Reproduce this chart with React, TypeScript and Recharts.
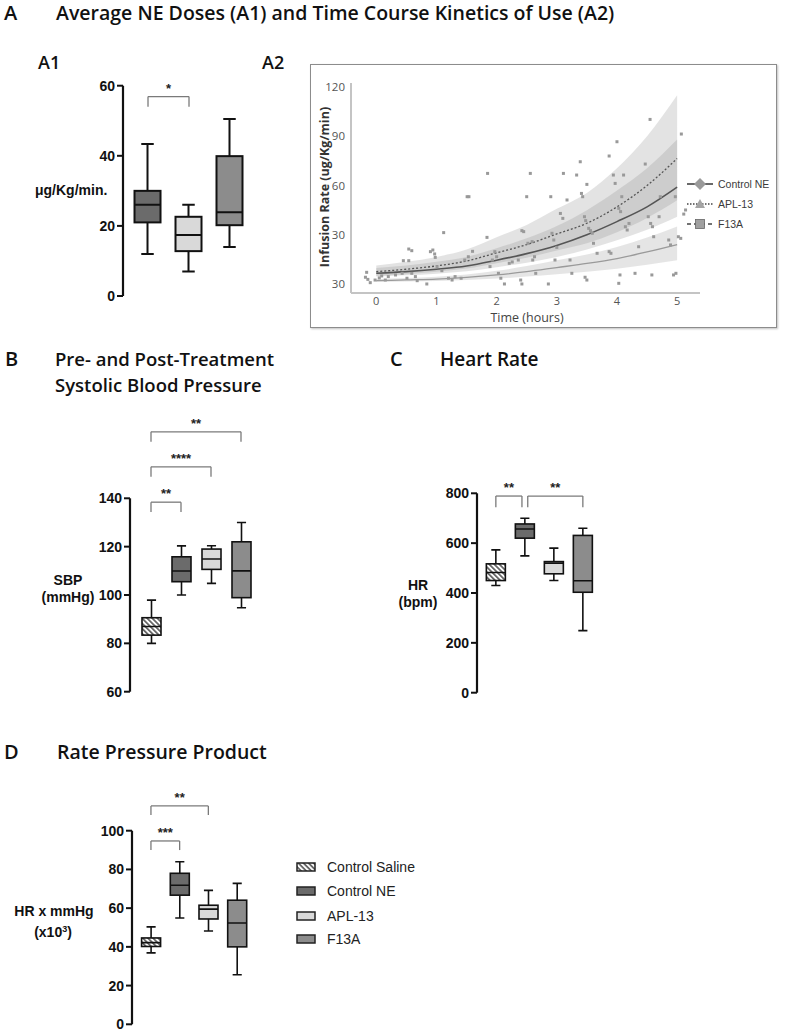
import React from 'react';
import { ComposedChart, Bar, XAxis, YAxis, ReferenceLine, Area, Line, Scatter } from 'recharts';

const HEAD = '"Open Sans", "Noto Sans", sans-serif';
const SANS = '"Liberation Sans", Arial, sans-serif';

// group fills (styles kept apart from the data)
const GROUP_FILL: Record<string, string> = {
  'Control Saline': 'url(#hatch)',
  'Control NE': '#6b6b6b',
  'APL-13': '#d9d9d9',
  F13A: '#8c8c8c',
};

// ---- A1: average NE dose (µg/Kg/min) ----
const A1_GROUPS = ['Control NE', 'APL-13', 'F13A'];
const A1_MIN = [12, 7, 14];
const A1_Q1 = [21, 12.8, 20.2];
const A1_MED = [26, 17.4, 23.9];
const A1_Q3 = [30, 22.6, 39.9];
const A1_MAX = [43.4, 26, 50.5];
const A1_TICKS = [0, 20, 40, 60];

// ---- B / C / D groups ----
const GROUPS = ['Control Saline', 'Control NE', 'APL-13', 'F13A'];

// B: systolic blood pressure (mmHg)
const SBP_MIN = [80, 100, 104.8, 94.7];
const SBP_Q1 = [83.4, 105.5, 110.6, 98.9];
const SBP_MED = [87, 109.9, 114.9, 110];
const SBP_Q3 = [90.6, 115.8, 119, 122];
const SBP_MAX = [97.9, 120.3, 120.4, 130];
const SBP_TICKS = [60, 80, 100, 120, 140];

// C: heart rate (bpm)
const HR_MIN = [430, 549, 450, 249];
const HR_Q1 = [450, 620, 477, 403];
const HR_MED = [482, 657, 520, 449];
const HR_Q3 = [517, 677, 526, 631];
const HR_MAX = [573, 700, 580, 660];
const HR_TICKS = [0, 200, 400, 600, 800];

// D: rate pressure product (x10^3)
const RPP_MIN = [36.9, 54.9, 48.2, 25.6];
const RPP_Q1 = [40.2, 66.7, 54.4, 40];
const RPP_MED = [42.2, 71.8, 59.5, 52.3];
const RPP_Q3 = [44.6, 78, 61.5, 64.1];
const RPP_MAX = [50.3, 84, 69.2, 72.8];
const RPP_TICKS = [0, 20, 40, 60, 80, 100];

type Bracket = { x1: number; x2: number; y: number; leg: number; text: string };
const A1_BRACKETS: Bracket[] = [{ x1: 1, x2: 2, y: 56.9, leg: 2.9, text: '*' }];
const SBP_BRACKETS: Bracket[] = [
  { x1: 1, x2: 2, y: 138.4, leg: 4.1, text: '**' },
  { x1: 1, x2: 3, y: 153, leg: 4.1, text: '****' },
  { x1: 1, x2: 4, y: 167.5, leg: 4.1, text: '**' },
];
const HR_BRACKETS: Bracket[] = [
  { x1: 1, x2: 1.9, y: 789, leg: 45, text: '**' },
  { x1: 2.1, x2: 4, y: 789, leg: 45, text: '**' },
];
const RPP_BRACKETS: Bracket[] = [
  { x1: 1, x2: 2, y: 94.7, leg: 4.7, text: '***' },
  { x1: 1, x2: 3, y: 112.8, leg: 4.7, text: '**' },
];

// ---- A2: time course of infusion rate ----
const A2_T = [0, 0.5, 1, 1.5, 2, 2.5, 3, 3.5, 4, 4.5, 5];
const A2_NE_FIT = [6.5, 7.5, 9, 11, 14.5, 18.5, 23.5, 30, 38, 47, 59];
const A2_NE_LO = [4.6, 5.3, 6.3, 7.7, 10.2, 13, 16.5, 21, 26.6, 33, 41];
const A2_NE_HI = [9.8, 11.3, 13.5, 16.5, 21.8, 27.8, 35.3, 45, 57, 70.5, 88];
const A2_APL_FIT = [7.5, 9, 11, 14, 19, 24, 30.5, 37, 47, 60, 76.5];
const A2_APL_LO = [5, 6, 7.4, 9.4, 12.7, 16, 20.4, 24.8, 31.5, 40.2, 51];
const A2_APL_HI = [11.3, 13.5, 16.5, 21, 28.5, 36, 45.8, 55.5, 70.5, 90, 115];
const A2_F13A_FIT = [2, 2.5, 3, 4, 5.5, 7.5, 10, 12.5, 15.5, 19.5, 24];
const A2_F13A_LO = [1.2, 1.5, 1.8, 2.4, 3.3, 4.5, 6, 7.5, 9.3, 11.7, 14.5];
const A2_F13A_HI = [2.9, 3.6, 4.4, 5.8, 8, 10.9, 14.5, 18, 22.5, 28.3, 35];

const A2_PT_T = [
  -0.16, -0.18, -0.14, -0.1, -0.02, 0.05, 0.09, 0.15, 0.2, 0.32, 0.43, 0.51, 0.45, 0.54, 0.54, 0.59, 0.59, 0.65,
  0.68, 0.84, 0.9, 0.94, 0.97, 0.98, 1.01, 1.09, 1.12, 1.2, 1.26, 1.31, 1.41, 1.47, 1.53, 1.6, 1.51, 1.54, 1.84,
  1.85, 1.89, 1.93, 1.97, 2.0, 2.03, 2.07, 2.13, 2.21, 2.26, 2.36, 2.4, 2.42, 2.42, 2.45, 2.5, 2.56, 2.52, 2.59,
  2.6, 2.63, 2.65, 2.86, 2.9, 2.92, 2.95, 2.97, 3.0, 3.06, 3.1, 3.11, 3.17, 3.22, 3.25, 3.33, 3.39, 3.41, 3.43,
  3.46, 3.48, 3.47, 3.5, 3.5, 3.53, 3.56, 3.59, 3.61, 3.67, 3.87, 3.9, 3.87, 3.94, 3.97, 4.0, 4.03, 4.06, 4.05,
  4.03, 4.08, 4.11, 4.14, 4.17, 4.2, 4.3, 4.36, 4.47, 4.52, 4.56, 4.59, 4.61, 4.55, 4.58, 4.7, 4.72, 4.86, 4.89,
  4.94, 4.98, 4.97, 5.02, 5.06, 5.07, 5.11, 5.14,
];
const A2_PT_V = [
  7.1, 4.1, 2.8, 0.8, 2.4, 3.7, 4.9, 2.4, 4.5, 5.5, 6.5, 3.5, 14.2, 14.2, 21.3, 20.3, 6.5, 4.5,
  2, 0, 19.7, 20.7, 18.3, 16.2, 10.6, 8.1, 31.3, 3.5, 2.4, 4.5, 3.5, 14.6, 16.6, 19.9, 53.2, 53.2, 28.4,
  67.4, 10.6, 14.6, 19.7, 16.6, 6.5, 3.5, 0, 12.6, 13.4, 14.6, 2.4, 0, 32.5, 31.9, 53.2, 67.4, 24.8, 25.8,
  14.6, 16.6, 6.5, 0, 53.2, 30.9, 26.8, 14.6, 22.3, 43, 40, 67.4, 51.2, 14.6, 6.5, 66.4, 74.5, 55.2, 53.2,
  41, 38.6, 4.1, 2.4, 60.7, 33.9, 32.5, 30.9, 24.8, 18.7, 19.7, 18.7, 78, 66.4, 61.3, 86.7, 46.1, 44.1, 5.5,
  0.4, 53.2, 66.4, 34.9, 32.9, 36.9, 6.5, 22.7, 73.1, 41, 36.9, 34.9, 28.8, 100.3, 5.5, 41, 53.2, 26.8, 23.8,
  5.5, 6.5, 53.2, 28.8, 27.8, 91.4, 42.6, 45.1,
];
const A2_X_TICKS = [0, 1, 2, 3, 4, 5];
const A2_Y_TICKS = [0, 30, 60, 90, 120];
const A2_Y_LABELS = ['30', '30', '60', '90', '120'];

type Row = { group: string; pos: number; min: number; q1: number; med: number; q3: number; max: number };
const toRows = (g: string[], mn: number[], q1: number[], md: number[], q3: number[], mx: number[]): Row[] =>
  g.map((group, i) => ({ group, pos: i + 1, min: mn[i], q1: q1[i], med: md[i], q3: q3[i], max: mx[i] }));

const a2Curves = A2_T.map((t, i) => ({
  t,
  ne: A2_NE_FIT[i],
  apl: A2_APL_FIT[i],
  f13a: A2_F13A_FIT[i],
  neBand: [A2_NE_LO[i], A2_NE_HI[i]],
  aplBand: [A2_APL_LO[i], A2_APL_HI[i]],
  f13aBand: [A2_F13A_LO[i], A2_F13A_HI[i]],
}));
const a2Points = A2_PT_T.map((t, i) => ({ t, v: A2_PT_V[i] }));

const BoxShape = (props: any) => {
  const { x, y, width, height, payload, sw } = props;
  if (x == null || !payload) return null;
  const top = Math.min(y, y + height);
  const h = Math.abs(height);
  const py = (v: number) => top + (h * (payload.max - v)) / (payload.max - payload.min);
  const cx = x + width / 2;
  const cap = width * 0.48;
  const k = '#111';
  return (
    <g>
      <line x1={cx} x2={cx} y1={py(payload.max)} y2={py(payload.q3)} stroke={k} strokeWidth={sw} />
      <line x1={cx} x2={cx} y1={py(payload.q1)} y2={py(payload.min)} stroke={k} strokeWidth={sw} />
      <line x1={cx - cap / 2} x2={cx + cap / 2} y1={py(payload.max)} y2={py(payload.max)} stroke={k} strokeWidth={sw} />
      <line x1={cx - cap / 2} x2={cx + cap / 2} y1={py(payload.min)} y2={py(payload.min)} stroke={k} strokeWidth={sw} />
      <rect x={x} y={py(payload.q3)} width={width} height={py(payload.q1) - py(payload.q3)} fill={GROUP_FILL[payload.group]} stroke={k} strokeWidth={sw} />
      <line x1={x} x2={x + width} y1={py(payload.med)} y2={py(payload.med)} stroke={k} strokeWidth={sw} />
    </g>
  );
};

const bracketLines = (list: Bracket[], id: string) =>
  list.map((b, i) => (
    <React.Fragment key={id + i}>
      <ReferenceLine
        segment={[{ x: b.x1, y: b.y }, { x: b.x2, y: b.y }]}
        stroke="#7a7a7a"
        strokeWidth={1.3}
        ifOverflow="visible"
        label={{ value: b.text, position: 'top', offset: 4, fill: '#222', fontSize: 13, fontWeight: 700, fontFamily: SANS }}
      />
      <ReferenceLine segment={[{ x: b.x1, y: b.y }, { x: b.x1, y: b.y - b.leg }]} stroke="#7a7a7a" strokeWidth={1.3} ifOverflow="visible" />
      <ReferenceLine segment={[{ x: b.x2, y: b.y }, { x: b.x2, y: b.y - b.leg }]} stroke="#7a7a7a" strokeWidth={1.3} ifOverflow="visible" />
    </React.Fragment>
  ));

type BoxChartProps = {
  left: number;
  top: number;
  width: number;
  height: number;
  margin: { top: number; right: number; bottom: number; left: number };
  rows: Row[];
  yDomain: [number, number];
  yTicks: number[];
  xDomain: [number, number];
  barSize: number;
  sw: number;
  brackets: Bracket[];
  id: string;
};

const BoxChart = ({ left, top, width, height, margin, rows, yDomain, yTicks, xDomain, barSize, sw, brackets, id }: BoxChartProps) => (
  <div style={{ position: 'absolute', left, top, width, height }}>
    <ComposedChart width={width} height={height} data={rows} margin={margin}>
      <XAxis type="number" dataKey="pos" domain={xDomain} hide allowDataOverflow />
      <YAxis
        type="number"
        domain={yDomain}
        ticks={yTicks}
        interval={0}
        width={40}
        allowDataOverflow
        axisLine={{ stroke: '#111', strokeWidth: 2.2 }}
        tickLine={{ stroke: '#111', strokeWidth: 2 }}
        tickSize={6}
        tickMargin={2}
        tick={{ fill: '#111', fontSize: 14, fontWeight: 700, fontFamily: SANS }}
      />
      <Bar
        dataKey={(d: Row) => [d.min, d.max]}
        barSize={barSize}
        isAnimationActive={false}
        shape={(p: any) => <BoxShape {...p} sw={sw} />}
      />
      {bracketLines(brackets, id)}
    </ComposedChart>
  </div>
);

const Txt = ({ x, y, size, weight = 700, font = HEAD, color = '#111', center = false, children }: any) => (
  <div
    style={{
      position: 'absolute',
      left: x,
      top: y,
      fontFamily: font,
      fontSize: size,
      fontWeight: weight,
      color,
      lineHeight: 1,
      whiteSpace: 'nowrap',
      transform: center ? 'translate(-50%, -50%)' : 'translateY(-50%)',
    }}
  >
    {children}
  </div>
);

const Swatch = ({ fill }: { fill: string }) => (
  <svg width={20} height={10} style={{ display: 'block' }}>
    <rect x={1} y={1} width={18} height={8} fill={fill} stroke="#222" strokeWidth={1.5} />
  </svg>
);

const A2Legend = () => {
  const items = [
    { label: 'Control NE', dash: undefined, mark: 'diamond', y: 184 },
    { label: 'APL-13', dash: '1.5 1.5', mark: 'triangle', y: 204 },
    { label: 'F13A', dash: '4 3', mark: 'square', y: 224 },
  ];
  return (
    <>
      {items.map((it) => (
        <React.Fragment key={it.label}>
          <svg width={28} height={14} style={{ position: 'absolute', left: 686, top: it.y - 7 }}>
            <line x1={1} x2={27} y1={7} y2={7} stroke="#444" strokeWidth={1.6} strokeDasharray={it.dash} />
            {it.mark === 'diamond' && <polygon points="14,1 20,7 14,13 8,7" fill="#9a9a9a" />}
            {it.mark === 'triangle' && <polygon points="14,2 19,11 9,11" fill="#a5a5a5" />}
            {it.mark === 'square' && <rect x={9.5} y={2.5} width={9} height={9} fill="#a0a0a0" stroke="#666" strokeWidth={0.8} />}
          </svg>
          <Txt x={718} y={it.y} size={10.5} weight={400} font={SANS} color="#3a3a3a">
            {it.label}
          </Txt>
        </React.Fragment>
      ))}
    </>
  );
};

const A2Chart = () => (
  <div style={{ position: 'absolute', left: 310, top: 64, width: 467, height: 264 }}>
    <div style={{ position: 'absolute', inset: 0, border: '1.5px solid #8c8c8c', boxShadow: '1px 1px 2px rgba(0,0,0,0.25)' }} />
    <div style={{ position: 'absolute', left: 0, top: 0 }}>
      <ComposedChart width={467} height={264} data={a2Curves} margin={{ top: 19, right: 77, bottom: 10, left: 11 }}>
        <XAxis
          type="number"
          dataKey="t"
          domain={[-0.42, 5.38]}
          ticks={A2_X_TICKS}
          interval={0}
          height={25}
          allowDataOverflow
          axisLine={{ stroke: '#c4c4c4', strokeWidth: 2 }}
          tickLine={false}
          tickSize={0}
          tickMargin={4}
          tick={{ fill: '#555', fontSize: 11, fontFamily: HEAD }}
        />
        <YAxis
          type="number"
          dataKey="v"
          domain={[-5.5, 122.5]}
          ticks={A2_Y_TICKS}
          interval={0}
          width={30}
          allowDataOverflow
          axisLine={{ stroke: '#c4c4c4', strokeWidth: 2 }}
          tickLine={false}
          tickSize={0}
          tickMargin={6}
          tickFormatter={(v: number) => A2_Y_LABELS[A2_Y_TICKS.indexOf(v)]}
          tick={{ fill: '#555', fontSize: 11.5, fontFamily: HEAD }}
        />
        <Area dataKey="aplBand" type="monotone" stroke="none" fill="#888" fillOpacity={0.23} isAnimationActive={false} />
        <Area dataKey="neBand" type="monotone" stroke="none" fill="#888" fillOpacity={0.23} isAnimationActive={false} />
        <Area dataKey="f13aBand" type="monotone" stroke="none" fill="#888" fillOpacity={0.22} isAnimationActive={false} />
        <Scatter
          data={a2Points}
          dataKey="v"
          isAnimationActive={false}
          shape={(p: any) => <rect x={p.cx - 1.5} y={p.cy - 1.5} width={3} height={3} fill="#999" />}
        />
        <Line dataKey="f13a" type="monotone" stroke="#9a9a9a" strokeWidth={1.3} dot={false} isAnimationActive={false} />
        <Line dataKey="ne" type="monotone" stroke="#555" strokeWidth={1.6} dot={false} isAnimationActive={false} />
        <Line dataKey="apl" type="monotone" stroke="#555" strokeWidth={1.3} strokeDasharray="2 2" dot={false} isAnimationActive={false} />
      </ComposedChart>
    </div>
  </div>
);

export default function App() {
  const a1Rows = toRows(A1_GROUPS, A1_MIN, A1_Q1, A1_MED, A1_Q3, A1_MAX);
  const sbpRows = toRows(GROUPS, SBP_MIN, SBP_Q1, SBP_MED, SBP_Q3, SBP_MAX);
  const hrRows = toRows(GROUPS, HR_MIN, HR_Q1, HR_MED, HR_Q3, HR_MAX);
  const rppRows = toRows(GROUPS, RPP_MIN, RPP_Q1, RPP_MED, RPP_Q3, RPP_MAX);
  const legendY = [867, 891, 916, 939];

  return (
    <div style={{ position: 'absolute', left: 0, top: 0, width: 790, height: 1032, background: '#fff', overflow: 'hidden' }}>
      <svg width={0} height={0} style={{ position: 'absolute' }}>
        <defs>
          <pattern id="hatch" patternUnits="userSpaceOnUse" width={3.6} height={3.6} patternTransform="rotate(-45)">
            <rect width={3.6} height={3.6} fill="#fff" />
            <line x1={0.9} y1={0} x2={0.9} y2={3.6} stroke="#555" strokeWidth={1.6} />
          </pattern>
        </defs>
      </svg>

      {/* headings */}
      <Txt x={4} y={13} size={20} weight={600}>A</Txt>
      <Txt x={56} y={13} size={19.5} weight={600}>Average NE Doses (A1) and Time Course Kinetics of Use (A2)</Txt>
      <Txt x={38} y={62} size={18} weight={600}>A1</Txt>
      <Txt x={262} y={62} size={18} weight={600}>A2</Txt>
      <Txt x={5} y={358.5} size={20} weight={600}>B</Txt>
      <Txt x={55} y={358.5} size={18.5} weight={600}>Pre- and Post-Treatment</Txt>
      <Txt x={55} y={384.5} size={18.5} weight={600}>Systolic Blood Pressure</Txt>
      <Txt x={390} y={358.5} size={20} weight={600}>C</Txt>
      <Txt x={440} y={358.5} size={19} weight={600}>Heart Rate</Txt>
      <Txt x={4} y={752} size={20} weight={600}>D</Txt>
      <Txt x={57} y={752} size={19.5} weight={600}>Rate Pressure Product</Txt>

      {/* A1 */}
      <Txt x={35} y={190} size={14} font={SANS}>μg/Kg/min.</Txt>
      <BoxChart
        id="a1"
        left={60}
        top={50}
        width={200}
        height={260}
        margin={{ top: 35.7, right: 9.5, bottom: 14, left: 23 }}
        rows={a1Rows}
        yDomain={[0, 60]}
        yTicks={A1_TICKS}
        xDomain={[0.39, 3.5]}
        barSize={26}
        sw={2}
        brackets={A1_BRACKETS}
      />

      {/* A2 */}
      <A2Chart />
      <A2Legend />
      <Txt x={527} y={318} size={12.5} weight={400} color="#444" center>Time (hours)</Txt>
      <div
        style={{
          position: 'absolute',
          left: 325,
          top: 187,
          transform: 'translate(-50%, -50%) rotate(-90deg)',
          fontFamily: HEAD,
          fontSize: 12.5,
          fontWeight: 700,
          color: '#333',
          whiteSpace: 'nowrap',
          lineHeight: 1,
        }}
      >
        Infusion Rate (ug/Kg/min)
      </div>

      {/* B */}
      <Txt x={68} y={580} size={14} font={SANS} center>SBP</Txt>
      <Txt x={68} y={597} size={14} font={SANS} center>(mmHg)</Txt>
      <BoxChart
        id="b"
        left={60}
        top={400}
        width={220}
        height={300}
        margin={{ top: 98.3, right: 24, bottom: 8.3, left: 30 }}
        rows={sbpRows}
        yDomain={[60, 140]}
        yTicks={SBP_TICKS}
        xDomain={[0.3, 4.5]}
        barSize={19}
        sw={1.6}
        brackets={SBP_BRACKETS}
      />

      {/* C */}
      <Txt x={418} y={585} size={14} font={SANS} center>HR</Txt>
      <Txt x={418} y={602} size={14} font={SANS} center>(bpm)</Txt>
      <BoxChart
        id="c"
        left={400}
        top={400}
        width={220}
        height={300}
        margin={{ top: 93.3, right: 22.65, bottom: 7.3, left: 37 }}
        rows={hrRows}
        yDomain={[0, 800]}
        yTicks={HR_TICKS}
        xDomain={[0.35, 4.5]}
        barSize={19}
        sw={1.6}
        brackets={HR_BRACKETS}
      />

      {/* D */}
      <Txt x={54} y={911} size={14} font={SANS} center>HR x mmHg</Txt>
      <Txt x={53} y={932} size={14} font={SANS} center>
        (x10<sup style={{ fontSize: 9 }}>3</sup>)
      </Txt>
      <BoxChart
        id="d"
        left={60}
        top={770}
        width={220}
        height={262}
        margin={{ top: 60.7, right: 28.6, bottom: 7.7, left: 32 }}
        rows={rppRows}
        yDomain={[0, 100]}
        yTicks={RPP_TICKS}
        xDomain={[0.34, 4.5]}
        barSize={19}
        sw={1.6}
        brackets={RPP_BRACKETS}
      />

      {/* shared legend */}
      {GROUPS.map((g, i) => (
        <React.Fragment key={g}>
          <div style={{ position: 'absolute', left: 296, top: legendY[i] - 5 }}>
            <Swatch fill={GROUP_FILL[g]} />
          </div>
          <Txt x={327} y={legendY[i]} size={14} weight={400} font={SANS} color="#222">
            {g}
          </Txt>
        </React.Fragment>
      ))}
    </div>
  );
}
